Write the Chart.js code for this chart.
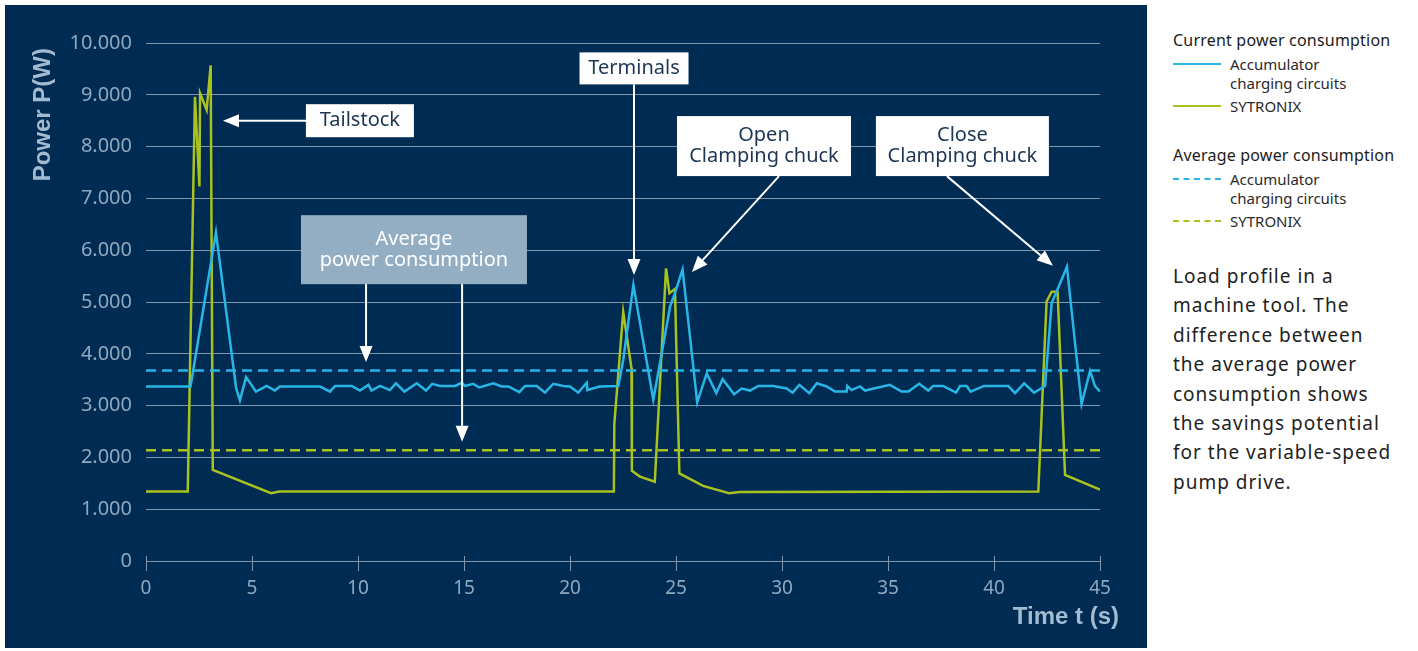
<!DOCTYPE html>
<html>
<head>
<meta charset="utf-8">
<script src="https://cdn.jsdelivr.net/npm/chart.js@4/dist/chart.umd.min.js"></script>
<style>
  body { margin: 0; background: #fff; width: 1418px; height: 651px; position: relative; overflow: hidden; font-family: "Noto Sans", sans-serif; }
  #panel { position: absolute; left: 5px; top: 5px; width: 1142px; height: 643px; background: #002b52; }
  #legend { position: absolute; left: 1173px; top: 29px; width: 245px; color: #333; }
  .head { font-size: 16px; letter-spacing: 0.2px; color: #1b1b1b; line-height: 22px; }
  .item { position: relative; padding-left: 57px; font-size: 15px; line-height: 19px; margin-top: 4px; color: #2a2a2a; }
  .item .swatch { position: absolute; left: 0; top: 8px; width: 48px; height: 0; border-top: 2.5px solid; }
  .item .swatch.dash { border-top-style: dashed; }
  #note { position: absolute; left: 1173px; top: 262px; font-size: 19px; letter-spacing: 1px; line-height: 29.4px; color: #222; }
</style>
</head>
<body>
<div id="panel"><canvas id="powerChart"></canvas></div>

<div id="legend">
  <div class="head">Current power consumption</div>
  <div class="item"><span class="swatch" style="border-color:#29b6e6"></span>Accumulator<br>charging circuits</div>
  <div class="item"><span class="swatch" style="border-color:#a9c21f"></span>SYTRONIX</div>
  <div class="head" style="margin-top:28px">Average power consumption</div>
  <div class="item"><span class="swatch dash" style="border-color:#29b6e6"></span>Accumulator<br>charging circuits</div>
  <div class="item"><span class="swatch dash" style="border-color:#a9c21f"></span>SYTRONIX</div>
</div>

<div id="note">Load profile in a<br>machine tool. The<br>difference between<br>the average power<br>consumption shows<br>the savings potential<br>for the variable-speed<br>pump drive.</div>

<script>
// time (s) / power (W)
const accuTimes = [0, 2.1, 3.3, 4.25, 4.43, 4.72, 5.19, 5.69, 6.08, 6.32, 8.2, 8.68, 8.92, 9.7, 10.09, 10.49, 10.64, 11.04, 11.5, 11.79,
  12.19, 12.77, 13.21, 13.5, 13.87, 14.58, 14.89, 15.05, 15.44, 15.72, 16.38, 16.78, 17.09, 17.61, 17.88, 18.43, 18.82, 19.21, 19.69, 20.0,
  20.39, 20.79, 20.82, 21.4, 22.28, 22.51, 22.99, 23.93, 24.72, 24.95, 25.31, 26.0, 26.45, 26.9, 27.2, 27.74, 28.1, 28.49, 28.88, 29.59,
  30.22, 30.5, 30.82, 31.29, 31.64, 32.11, 32.5, 33.05, 33.08, 33.28, 33.68, 33.92, 35.09, 35.64, 35.96, 36.47, 36.9, 37.13, 37.6, 38.21,
  38.4, 38.71, 38.9, 39.53, 40.67, 40.99, 41.42, 41.89, 42.3, 42.41, 42.72, 42.95, 43.44, 44.13, 44.53, 44.76, 45];
const accuPower = [3370, 3370, 6340, 3340, 3100, 3550, 3270, 3380, 3290, 3370, 3370, 3270, 3380, 3380, 3290, 3400, 3290, 3380, 3300, 3430,
  3270, 3430, 3290, 3420, 3380, 3380, 3440, 3380, 3420, 3350, 3430, 3370, 3370, 3260, 3380, 3380, 3250, 3420, 3380, 3370,
  3250, 3440, 3300, 3370, 3380, 3880, 5330, 3110, 4910, 5170, 5630, 3060, 3620, 3240, 3510, 3220, 3330, 3290, 3380, 3380,
  3330, 3250, 3400, 3240, 3430, 3370, 3270, 3270, 3380, 3300, 3370, 3290, 3400, 3270, 3270, 3420, 3290, 3380, 3380, 3250,
  3380, 3380, 3270, 3380, 3380, 3240, 3430, 3250, 3350, 3380, 4980, 5200, 5680, 3030, 3670, 3380, 3270];

const sytronixTimes = [0, 1.97, 2.31, 2.52, 2.55, 2.86, 3.05, 3.15, 5.9, 6.3, 22.07, 22.09, 22.51, 22.9, 22.92, 23.3, 24.0, 24.53, 24.69, 24.95,
  25.16, 26.28, 27.5, 28.0, 42.09, 42.48, 42.72, 43.0, 43.35, 45];
const sytronixPower = [1340, 1340, 8960, 7230, 9030, 8710, 9570, 1760, 1310, 1340, 1340, 2640, 4810, 3720, 1740, 1630, 1530, 5650, 5170, 5250,
  1690, 1450, 1310, 1330, 1340, 5010, 5200, 5200, 1660, 1380];

const avgTimes = [0, 45];
const accuAverage = 3680;
const sytronixAverage = 2140;

const yTickLabels = ['0', '1.000', '2.000', '3.000', '4.000', '5.000', '6.000', '7.000', '8.000', '9.000', '10.000'];
const xTickLabels = ['0', '5', '10', '15', '20', '25', '30', '35', '40', '45'];

// callouts: centre in data units, lines of text, arrows from/to in data units
const callouts = [
  { text: ['Tailstock'], t: 10.09, p: 8500, w: 108, h: 33, fill: '#ffffff', color: '#1c3553', arrows: [[7.55, 8500, 3.63, 8500]] },
  { text: ['Average', 'power consumption'], t: 12.64, p: 6010, w: 226, h: 69, fill: '#93aec3', color: '#ffffff',
    arrows: [[10.38, 5350, 10.38, 3840], [14.91, 5350, 14.91, 2300]] },
  { text: ['Terminals'], t: 23.02, p: 9510, w: 109, h: 32, fill: '#ffffff', color: '#1c3553', arrows: [[23.02, 9200, 23.02, 5520]] },
  { text: ['Open', 'Clamping chuck'], t: 29.15, p: 8010, w: 174, h: 60, fill: '#ffffff', color: '#1c3553', arrows: [[29.86, 7430, 25.75, 5580]] },
  { text: ['Close', 'Clamping chuck'], t: 38.51, p: 8010, w: 173, h: 60, fill: '#ffffff', color: '#1c3553', arrows: [[37.78, 7430, 42.78, 5700]] }
];

const BLUE = '#29b6e6';
const GREEN = '#a9c21f';
const GRID = '#7f96ab';
const TICK_TEXT = '#8ea8c0';

function toPoints(ts, vs) {
  return ts.map((t, i) => ({ x: t, y: vs[i] }));
}

function drawArrow(ctx, x1, y1, x2, y2) {
  const ang = Math.atan2(y2 - y1, x2 - x1);
  const headLen = 16, headW = 6.5;
  const bx = x2 - Math.cos(ang) * headLen, by = y2 - Math.sin(ang) * headLen;
  ctx.beginPath();
  ctx.moveTo(x1, y1);
  ctx.lineTo(bx, by);
  ctx.stroke();
  ctx.beginPath();
  ctx.moveTo(x2, y2);
  ctx.lineTo(bx + Math.sin(ang) * headW, by - Math.cos(ang) * headW);
  ctx.lineTo(bx - Math.sin(ang) * headW, by + Math.cos(ang) * headW);
  ctx.closePath();
  ctx.fill();
}

const decorations = {
  id: 'decorations',
  afterDatasetsDraw(chart) {
    const ctx = chart.ctx;
    const xs = chart.scales.x, ys = chart.scales.y;
    ctx.save();

    // small upward part of the x ticks
    ctx.strokeStyle = GRID;
    ctx.lineWidth = 1;
    xTickLabels.forEach(l => {
      const px = Math.round(xs.getPixelForValue(Number(l))) + 0.5;
      ctx.beginPath();
      ctx.moveTo(px, ys.bottom - 5);
      ctx.lineTo(px, ys.bottom);
      ctx.stroke();
    });

    // callout boxes and arrows
    callouts.forEach(c => {
      const cx = xs.getPixelForValue(c.t), cy = ys.getPixelForValue(c.p);
      ctx.strokeStyle = '#ffffff';
      ctx.fillStyle = '#ffffff';
      ctx.lineWidth = 2;
      c.arrows.forEach(a => {
        drawArrow(ctx, xs.getPixelForValue(a[0]), ys.getPixelForValue(a[1]), xs.getPixelForValue(a[2]), ys.getPixelForValue(a[3]));
      });
      ctx.fillStyle = c.fill;
      ctx.fillRect(cx - c.w / 2, cy - c.h / 2, c.w, c.h);
      ctx.fillStyle = c.color;
      ctx.font = '20px "Noto Sans"';
      ctx.textAlign = 'center';
      ctx.textBaseline = 'middle';
      const lh = 21;
      c.text.forEach((line, i) => {
        ctx.fillText(line, cx, cy + (i - (c.text.length - 1) / 2) * lh);
      });
    });

    // axis titles
    ctx.fillStyle = '#a3bbd1';
    ctx.font = 'bold 24px "Liberation Sans"';
    ctx.textBaseline = 'middle';
    ctx.save();
    ctx.translate(38, 43);
    ctx.rotate(-Math.PI / 2);
    ctx.textAlign = 'right';
    ctx.fillText('Power P(W)', 0, 0);
    ctx.restore();
    ctx.textAlign = 'right';
    ctx.fillText('Time t (s)', 1114, 612);
    ctx.restore();
  }
};

const ctx = document.getElementById('powerChart').getContext('2d');
window.chartInstance = new Chart(ctx, {
  type: 'line',
  data: {
    datasets: [
      { data: toPoints(avgTimes, [accuAverage, accuAverage]), borderColor: BLUE, borderWidth: 2.5, borderDash: [10, 6], pointRadius: 0 },
      { data: toPoints(avgTimes, [sytronixAverage, sytronixAverage]), borderColor: GREEN, borderWidth: 2.5, borderDash: [10, 6], pointRadius: 0 },
      { data: toPoints(accuTimes, accuPower), borderColor: BLUE, borderWidth: 2.5, pointRadius: 0 },
      { data: toPoints(sytronixTimes, sytronixPower), borderColor: GREEN, borderWidth: 2.5, pointRadius: 0 }
    ]
  },
  options: {
    responsive: true,
    maintainAspectRatio: false,
    animation: false,
    layout: { padding: { top: 38, right: 47, left: 0, bottom: 0 } },
    plugins: { legend: { display: false }, tooltip: { enabled: false } },
    elements: { line: { tension: 0 } },
    scales: {
      x: {
        type: 'linear', min: 0, max: 45,
        afterFit: s => { s.height = 87; },
        border: { display: true, color: GRID, width: 1 },
        grid: { drawOnChartArea: false, drawTicks: true, tickLength: 10, color: GRID },
        ticks: { stepSize: 5, padding: 6, color: TICK_TEXT, font: { family: 'Noto Sans', size: 19 },
          callback: (v, i) => xTickLabels[i] },
      },
      y: {
        min: 0, max: 10000,
        afterFit: s => { s.width = 141; },
        border: { display: false },
        grid: { color: GRID, lineWidth: 1, drawTicks: false },
        ticks: { stepSize: 1000, padding: 14, color: TICK_TEXT, font: { family: 'Noto Sans', size: 20 },
          callback: (v, i) => yTickLabels[i] }
      }
    }
  },
  plugins: [decorations]
});
</script>
</body>
</html>
